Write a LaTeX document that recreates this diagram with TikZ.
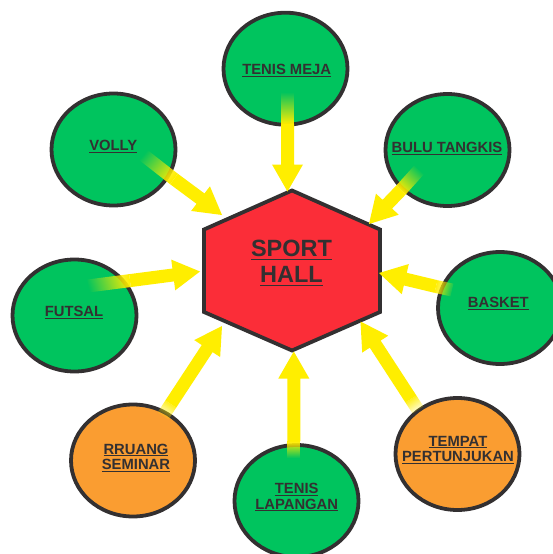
\documentclass[tikz,border=0pt]{standalone}
\usepackage{fontspec}
\setmainfont{Liberation Sans}
\usetikzlibrary{calc,shapes.geometric,fadings}
\definecolor{cgreen}{RGB}{0,196,94}
\definecolor{corange}{RGB}{250,157,49}
\definecolor{cred}{RGB}{251,45,56}
\definecolor{cyel}{RGB}{255,238,0}
\definecolor{cline}{RGB}{51,48,49}
\newcommand\ulx[1]{\setbox0\hbox{#1}\rlap{\usebox0}\rule[-2.3pt]{\wd0}{1.1pt}}
\newcommand\ulbig[1]{\setbox0\hbox{#1}\rlap{\usebox0}\rule[-3.6pt]{\wd0}{1.6pt}}
\tikzfading[name=fadein, bottom color=transparent!100, top color=transparent!0]
\tikzset{
  bubble/.style={ellipse, draw=cline, line width=3.8pt, minimum width=124pt, minimum height=112pt, inner sep=0pt},
  lbl/.style={text=cline, font=\bfseries\fontsize{14.8}{15.5}\selectfont, align=center, inner sep=0pt},
  hexlbl/.style={text=cline, font=\bfseries\fontsize{23.5}{26}\selectfont, align=center, inner sep=0pt},
  hexshape/.style={draw=cline, line width=3.8pt, fill=cred, line join=miter},
}
\newcommand\yarrow[3]{%
  \pgfmathanglebetweenpoints{\pgfpointanchor{#1}{center}}{\pgfpointanchor{#3}{center}}%
  \pgfmathsetmacro\fadeang{\pgfmathresult-90}%
  \fill[cyel, path fading=fadein, fading angle=\fadeang] ($(#1)!6.5pt!90:(#3)$) -- ($(#1)!6.5pt!-90:(#3)$) -- ($(#2)!6.5pt!-90:(#3)$) -- ($(#2)!6.5pt!90:(#3)$) -- cycle;
  \coordinate (hb) at ($(#3)!27pt!(#1)$);
  \fill[cyel] ($(#2)!6.5pt!90:(#3)$) -- ($(hb)!6.5pt!90:(#3)$) -- ($(hb)!15.5pt!90:(#3)$) -- (#3) -- ($(hb)!15.5pt!-90:(#3)$) -- ($(hb)!6.5pt!-90:(#3)$) -- ($(#2)!6.5pt!-90:(#3)$) -- cycle;
}
\begin{document}
\begin{tikzpicture}[x=1pt,y=-1pt]
\useasboundingbox (0,0) rectangle (552,554);
\fill[white] (0,0) rectangle (552,554);
% circles
\node[bubble, fill=cgreen] (tm) at (285.5,68.7) {};
\node[bubble, fill=cgreen] (vo) at (113.5,149.5) {};
\node[bubble, fill=cgreen] (bt) at (447.5,150) {};
\node[bubble, fill=cgreen] (ba) at (500,308) {};
\node[bubble, fill=cgreen] (fu) at (74.5,315.5) {};
\node[bubble, fill=corange] (rs) at (133,460.5) {};
\node[bubble, fill=cgreen] (tl) at (296.5,501) {};
\node[bubble, fill=corange] (tp) at (457.5,454) {};
% labels
\node[lbl] (tmt) at (286.7,70.8) {\ulx{TENIS MEJA}};
\node[lbl] (vot) at (113.3,146.5) {\ulx{VOLLY}};
\node[lbl] (btt) at (447,148.5) {\ulx{BULU TANGKIS}};
\node[lbl] (bat) at (498.3,303.8) {\ulx{BASKET}};
\node[lbl] (fut) at (74,312.5) {\ulx{FUTSAL}};
\node[lbl] (rst) at (136,457.8) {\ulx{RRUANG}\\\ulx{SEMINAR}};
\node[lbl] (tlt) at (296.7,497.3) {\ulx{TENIS}\\\ulx{LAPANGAN}};
\node[lbl] (tpt) at (458,450) {\ulx{TEMPAT}\\\ulx{PERTUNJUKAN}};
% hexagon
\draw[hexshape] (292,190.5) -- (380,229.5) -- (380,312) -- (292,350.5) -- (204,312) -- (204,229.5) -- cycle;
\node[hexlbl] (hex) at (291.5,263.4) {\ulbig{SPORT}\\\ulbig{HALL}};
% arrow coordinates
\coordinate (tmA) at (287.5,92);   \coordinate (tmB) at (287.5,124); \coordinate (tmT) at (287.5,191.5);
\coordinate (voA) at (142,154);    \coordinate (voB) at (174,179);   \coordinate (voT) at (222,215);
\coordinate (btA) at (419,170);    \coordinate (btB) at (401,190);   \coordinate (btT) at (369,224);
\coordinate (baA) at (452,290);    \coordinate (baB) at (436,286.5); \coordinate (baT) at (379,273);
\coordinate (fuA) at (88,286);     \coordinate (fuB) at (130,280.6); \coordinate (fuT) at (200,271.5);
\coordinate (rsA) at (163,416);    \coordinate (rsB) at (170.8,404); \coordinate (rsT) at (222,326);
\coordinate (tlA) at (293.8,458);  \coordinate (tlB) at (293.8,441); \coordinate (tlT) at (293.8,351.5);
\coordinate (tpA) at (418,410);    \coordinate (tpB) at (410.9,399); \coordinate (tpT) at (360.5,321.5);
\yarrow{tmA}{tmB}{tmT}
\yarrow{voA}{voB}{voT}
\yarrow{btA}{btB}{btT}
\yarrow{baA}{baB}{baT}
\yarrow{fuA}{fuB}{fuT}
\yarrow{rsA}{rsB}{rsT}
\yarrow{tlA}{tlB}{tlT}
\yarrow{tpA}{tpB}{tpT}
\end{tikzpicture}
\end{document}
